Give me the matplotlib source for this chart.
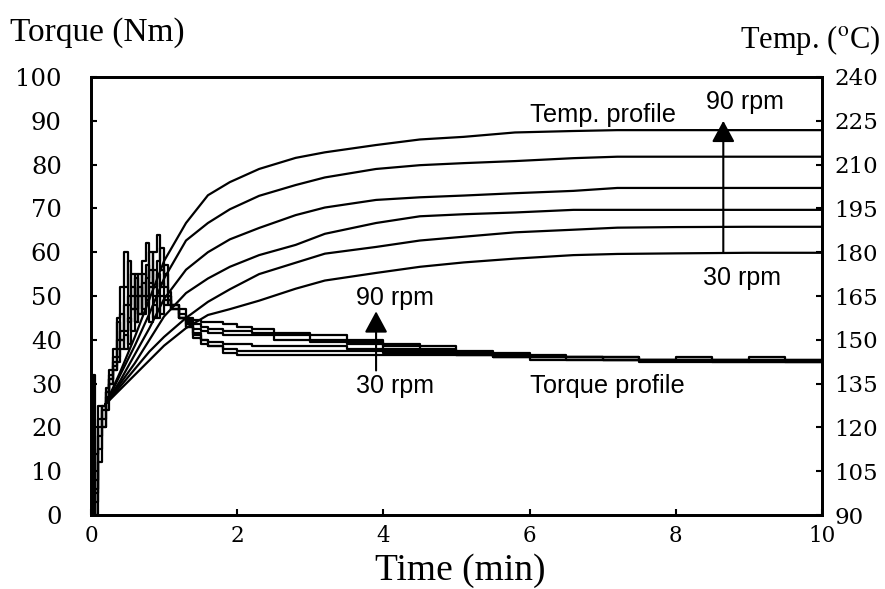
import matplotlib
matplotlib.use("Agg")
import matplotlib.pyplot as plt

plt.rcParams['mathtext.fontset'] = 'stix'

# torque readings, common time base (min)
t_torque = [0.00, 0.03, 0.06, 0.10, 0.15, 0.20, 0.25, 0.30, 0.35, 0.40,
            0.45, 0.50, 0.55, 0.60, 0.65, 0.70, 0.75, 0.80, 0.85, 0.90,
            0.95, 1.00, 1.05, 1.10, 1.20, 1.30, 1.40, 1.50, 1.60, 1.80,
            2.00, 2.20, 2.50, 3.00, 3.50, 4.00, 4.50, 5.00, 5.50, 6.00,
            6.50, 7.00, 7.50, 8.00, 8.50, 9.00, 9.50, 10.00]

torque_90 = [0, 32, 0, 12, 25, 24, 30, 36, 45, 52, 60, 48, 55, 44, 52, 46,
             50, 44, 48, 45, 50, 48, 49, 48, 47, 45, 44.5, 44, 44, 43.5,
             43, 42.5, 41.5, 41, 40, 39, 38.5, 37.5, 37, 36.5,
             36, 36, 35.5, 35.5, 35.5, 35, 35, 35]
torque_78 = [0, 0, 14, 25, 20, 28, 33, 38, 44, 40, 52, 58, 50, 54, 46, 55,
             48, 52, 45, 50, 46, 49, 48, 47, 46, 44.5, 43.5, 43, 42.5, 42,
             42, 41.5, 41, 40, 39.5, 38.5, 38, 37, 36.5, 36,
             36, 35.5, 35.5, 35.5, 35.5, 35.5, 35.5, 35.5]
torque_66 = [0, 0, 8, 22, 25, 29, 32, 35, 40, 46, 42, 50, 47, 55, 50, 58,
             62, 52, 56, 50, 53, 50, 49, 47, 45, 44, 42.5, 42, 41.5, 41,
             41, 41, 40, 39.5, 39, 38, 37.5, 37, 36.5, 36,
             36, 35.5, 35.5, 35.5, 35.5, 35.5, 35.5, 35.5]
torque_54 = [0, 0, 5, 18, 22, 27, 31, 34, 38, 42, 48, 44, 52, 47, 55, 50,
             57, 53, 60, 64, 56, 52, 50, 48, 45, 43, 41, 40, 39.5, 39,
             39, 38.5, 38.5, 38.5, 38, 37.5, 37.5, 36.5, 36, 36,
             36, 36, 35.5, 36, 35.5, 36, 35.5, 35.5]
torque_42 = [0, 0, 3, 15, 20, 26, 30, 33, 36, 40, 38, 45, 42, 50, 46, 53,
             49, 56, 52, 58, 61, 55, 51, 48, 45, 43, 40.5, 39, 38.5, 38,
             37.5, 37.5, 37.5, 37.5, 37.5, 37, 37, 36.5, 36, 36,
             35.5, 35.5, 35.5, 35.5, 35, 35.5, 35, 35]
torque_30 = [0, 0, 6, 20, 24, 28, 31, 33, 35, 38, 41, 39, 47, 44, 50, 47,
             54, 60, 50, 55, 52, 57, 50, 47, 45, 43.5, 41.5, 40, 38.5, 37,
             36.5, 36.5, 36.5, 36.5, 36.5, 36.5, 36.5, 36.5, 36, 35.5,
             35.5, 35.5, 35, 35, 35, 35, 35, 35]

# melt temperature readings (deg C)
t_temp = [0.2, 0.4, 0.6, 0.8, 1.0, 1.3, 1.6, 1.9, 2.3, 2.8,
          3.2, 3.9, 4.5, 5.1, 5.8, 6.6, 7.2, 8.0, 9.0, 10.0]

temp_90 = [128, 139, 151, 164, 177, 190, 199.5, 204, 208.5, 212.3,
           214.2, 216.7, 218.6, 219.5, 221, 221.5, 221.8, 221.8, 221.8, 221.8]
temp_78 = [128, 138, 148, 159, 171, 184, 190, 194.7, 199.3, 203,
           205.6, 208.5, 209.8, 210.5, 211.2, 212.2, 212.7, 212.7, 212.7, 212.7]
temp_66 = [128, 136, 145, 154, 164, 174, 180, 184.4, 188.3, 192.7,
           195.3, 197.9, 198.8, 199.4, 200.2, 201, 202, 202, 202, 202]
temp_54 = [128, 135, 142, 150, 158, 166, 171, 175, 179, 182.5,
           186.3, 190, 192.3, 193, 193.6, 194.5, 194.5, 194.5, 194.5, 194.5]
temp_42 = [128, 134, 140, 146, 151, 157.5, 163, 167.3, 172.5, 176.4,
           179.5, 181.8, 184, 185.3, 186.8, 187.7, 188.4, 188.6, 188.7, 188.7]
temp_30 = [128, 133, 138, 143, 148, 154, 158.5, 160.5, 163.4, 167.5,
           170.3, 172.9, 175, 176.5, 177.8, 179, 179.4, 179.6, 179.8, 179.8]

torque_ticks = list(range(0, 101, 10))
temp_ticks = list(range(90, 241, 15))
time_ticks = [0, 2, 4, 6, 8, 10]

fig = plt.figure(figsize=(8.85, 5.89), dpi=100)
ax = fig.add_axes([0.1028, 0.1256, 0.826, 0.7437])
ax2 = ax.twinx()

for tq in [torque_30, torque_42, torque_54, torque_66, torque_78, torque_90]:
    ax.plot(t_torque, tq, color='black', lw=1.6, drawstyle='steps-post')

for tp in [temp_30, temp_42, temp_54, temp_66, temp_78, temp_90]:
    ax2.plot(t_temp, tp, color='black', lw=1.6)

ax.set_xlim(0, 10)
ax.set_ylim(0, 100)
ax2.set_ylim(90, 240)

ax.set_xticks(time_ticks)
ax.set_yticks(torque_ticks)
ax2.set_yticks(temp_ticks)

tick_font = {'family': 'DejaVu Serif'}
ax.set_xticklabels([str(v) for v in time_ticks], fontdict=tick_font, fontsize=15.5)
ax.set_yticklabels([str(v) for v in torque_ticks], fontdict=tick_font, fontsize=17.5)
ax2.set_yticklabels([str(v) for v in temp_ticks], fontdict=tick_font, fontsize=16.5)

ax.tick_params(axis='x', direction='in', length=4, width=1.5, pad=7)
ax.tick_params(axis='y', direction='in', length=4, width=1.5, pad=21)
ax2.tick_params(axis='y', direction='in', length=4, width=1.5, pad=9)
for a in (ax, ax2):
    for s in a.spines.values():
        s.set_linewidth(2)

serif = 'Liberation Serif'
fig.text(0.011, 0.945, 'Torque (Nm)', family=serif, fontsize=24, va='center', ha='left')
fig.text(0.995, 0.932, r'Temp. ($^{\mathrm{o}}$C)', family=serif, fontsize=22, va='center', ha='right')
ax.set_xlabel('Time (min)', family=serif, fontsize=27, labelpad=5)
ax.xaxis.label.set_x(0.505)

sans = 'Liberation Sans'
ax2.text(6.0, 227, 'Temp. profile', family=sans, fontsize=18.3, va='center', ha='left')
ax2.text(8.95, 231.5, '90 rpm', family=sans, fontsize=18, va='center', ha='center')
ax2.text(8.9, 171, '30 rpm', family=sans, fontsize=18, va='center', ha='center')
ax.text(4.16, 49.5, '90 rpm', family=sans, fontsize=18, va='center', ha='center')
ax.text(4.16, 29.5, '30 rpm', family=sans, fontsize=18, va='center', ha='center')
ax.text(7.06, 29.5, 'Torque profile', family=sans, fontsize=18.3, va='center', ha='center')

arrow = dict(arrowstyle='-|>,head_length=1.3,head_width=0.7', color='black', lw=1.5,
             shrinkA=0, shrinkB=0)
ax2.annotate('', xy=(8.65, 225), xytext=(8.65, 180), arrowprops=arrow)
ax.annotate('', xy=(3.9, 46.5), xytext=(3.9, 33), arrowprops=arrow)

fig.savefig('out.png', dpi=100)
